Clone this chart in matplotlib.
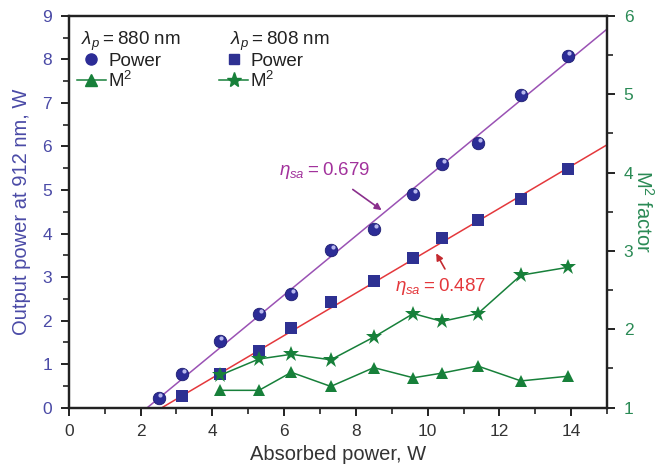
import numpy as np
import matplotlib.pyplot as plt
from matplotlib.lines import Line2D
from matplotlib.ticker import MultipleLocator

plt.rcParams['font.family'] = ['Liberation Sans', 'DejaVu Sans']
plt.rcParams['mathtext.fontset'] = 'custom'
plt.rcParams['mathtext.it'] = 'Liberation Sans:italic'
plt.rcParams['mathtext.rm'] = 'Liberation Sans'

# absorbed pump power, W
p_abs_880 = [2.5, 3.15, 4.2, 5.3, 6.2, 7.3, 8.5, 9.6, 10.4, 11.4, 12.6, 13.9]
p_abs_808 = [3.15, 4.2, 5.3, 6.2, 7.3, 8.5, 9.6, 10.4, 11.4, 12.6, 13.9]
p_abs_m2 = [4.2, 5.3, 6.2, 7.3, 8.5, 9.6, 10.4, 11.4, 12.6, 13.9]

# output power at 912 nm, W
p_out_880 = [0.21, 0.76, 1.53, 2.16, 2.6, 3.61, 4.1, 4.91, 5.59, 6.09, 7.18, 8.07]
p_out_808 = [0.27, 0.76, 1.3, 1.83, 2.43, 2.91, 3.44, 3.9, 4.3, 4.79, 5.48]

# beam quality
m2_880 = [1.22, 1.22, 1.45, 1.27, 1.51, 1.38, 1.44, 1.53, 1.34, 1.4]
m2_808 = [1.41, 1.62, 1.68, 1.61, 1.9, 2.2, 2.1, 2.2, 2.69, 2.79]

# linear fits: slope efficiency and threshold
eta_880, thr_880 = 0.679, 2.19
eta_808, thr_808 = 0.487, 2.6

blue = '#2c2c96'
lblue = '#4a4aa6'
green = '#17803a'
purple = '#9a52b4'
red = '#e4383c'

fig = plt.figure(figsize=(6.62, 4.69), dpi=100)
ax = fig.add_axes([0.104, 0.131, 0.813, 0.835])
ax2 = ax.twinx()

xfit = np.linspace(0, 15, 200)
ax.plot(xfit, eta_880 * (xfit - thr_880), color=purple, lw=1.1, zorder=2)
ax.plot(xfit, eta_808 * (xfit - thr_808), color=red, lw=1.1, zorder=2)

ax.plot(p_abs_880, p_out_880, 'o', color=blue, ms=9, mec='#1c1c70', mew=0.6, zorder=4)
# small highlight on the balls
ax.plot(np.array(p_abs_880) + 0.05, np.array(p_out_880) + 0.07, 'o', color='#b8b8ee',
        ms=3, mew=0, zorder=5)
ax.plot(p_abs_808, p_out_808, 's', color='#2e3192', ms=8, mew=0, zorder=4)

ax2.plot(p_abs_m2, m2_880, '-^', color=green, lw=1.1, ms=9, mew=0)
ax2.plot(p_abs_m2, m2_808, '-*', color=green, lw=1.1, ms=12, mew=0)

ax.set_xlim(0, 15)
ax.set_ylim(0, 9)
ax2.set_ylim(1, 6)

ax.xaxis.set_major_locator(MultipleLocator(2))
ax.xaxis.set_minor_locator(MultipleLocator(1))
ax.yaxis.set_major_locator(MultipleLocator(1))
ax.yaxis.set_minor_locator(MultipleLocator(0.5))
ax2.yaxis.set_major_locator(MultipleLocator(1))
ax2.yaxis.set_minor_locator(MultipleLocator(0.5))

for a in (ax, ax2):
    for s in a.spines.values():
        s.set_linewidth(1.6)
        s.set_color('#222222')
ax.tick_params(axis='both', which='major', direction='out', length=6, width=1.4,
               labelsize=12.5, color='#222222')
ax.tick_params(axis='both', which='minor', direction='out', length=4, width=1.2,
               color='#222222')
ax.tick_params(axis='x', labelcolor='#333333', pad=6)
ax.tick_params(axis='y', labelcolor=lblue, pad=6)
ax2.tick_params(axis='y', which='major', direction='out', length=6, width=1.4,
                labelsize=12.5, labelcolor='#2a8a55', color='#222222', pad=6)
ax2.tick_params(axis='y', which='minor', direction='out', length=4, width=1.2,
                color='#222222')

ax.set_xlabel('Absorbed power, W', fontsize=14.5, color='#333333', labelpad=4)
ax.set_ylabel('Output power at 912 nm, W', fontsize=14.5, color=lblue, labelpad=8)
ax2.set_ylabel('M$^2$ factor', fontsize=14.5, color='#2a8a55', rotation=270, labelpad=15)

ax.text(5.85, 5.45, r'$\eta_{sa}$' + '\u2009=\u20090.679', color='#a2329c',
        fontsize=13.5, va='center')
ax.annotate('', xy=(8.78, 4.5), xytext=(7.85, 5.05),
            arrowprops=dict(arrowstyle='-|>', color='#8a2f8c', lw=1.2, mutation_scale=10))
ax.text(9.1, 2.78, r'$\eta_{sa}$' + '\u2009=\u20090.487', color=red,
        fontsize=13.5, va='center')
ax.annotate('', xy=(10.2, 3.6), xytext=(10.52, 3.13),
            arrowprops=dict(arrowstyle='-|>', color='#c42a30', lw=1.2, mutation_scale=10))

# two-column key, one column per pump wavelength
ax.text(0.35, 8.42, r'$\lambda_p$' + '\u2009=\u2009880 nm', fontsize=13.5, va='center', color='#222222')
ax.text(4.5, 8.42, r'$\lambda_p$' + '\u2009=\u2009808 nm', fontsize=13.5, va='center', color='#222222')
handles = [
    Line2D([], [], ls='none', marker='o', color=blue, ms=8),
    Line2D([], [], ls='-', marker='^', color=green, ms=8, lw=1.1),
    Line2D([], [], ls='none', marker='s', color='#2e3192', ms=7),
    Line2D([], [], ls='-', marker='*', color=green, ms=11, lw=1.1),
]
labels = ['Power', 'M$^2$', 'Power', 'M$^2$']
ax.legend(handles, labels, ncol=2, loc='upper left', bbox_to_anchor=(-0.005, 0.935),
          frameon=False, fontsize=13.5, handlelength=1.5, handletextpad=0.15,
          columnspacing=3.1, labelspacing=0.05, borderaxespad=0.2, labelcolor='#222222')

fig.savefig('out.png', dpi=100)
